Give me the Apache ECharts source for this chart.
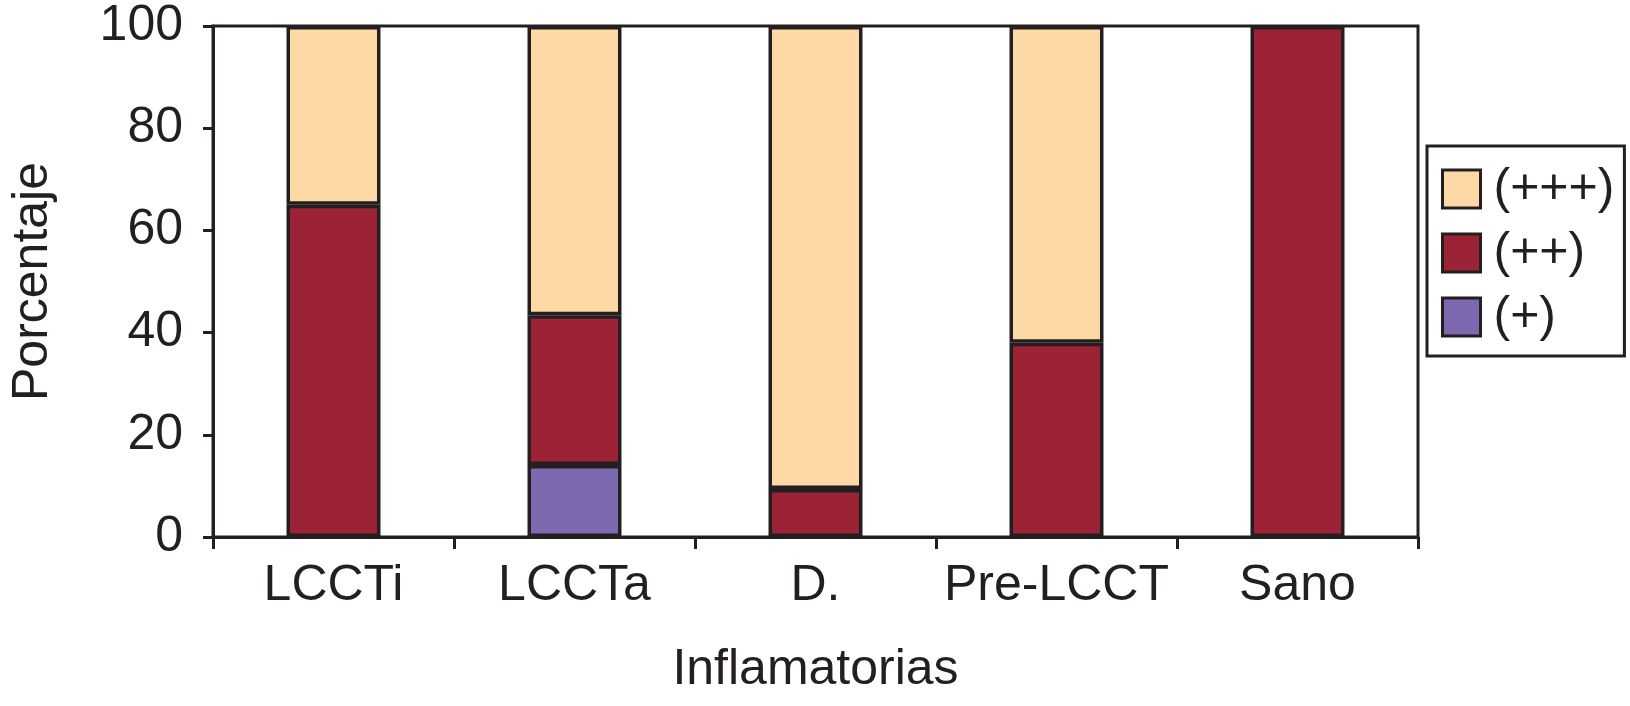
<!DOCTYPE html>
<html>
<head>
<meta charset="utf-8">
<script src="https://cdn.jsdelivr.net/npm/echarts@6/dist/echarts.min.js"></script>
<style>
html,body{margin:0;padding:0;background:#fff;}
#c{width:1630px;height:706px;}
</style>
</head>
<body>
<div id="c"></div>
<script>
const categories = ['LCCTi', 'LCCTa', 'D.', 'Pre-LCCT', 'Sano'];
const seriesNames = ['(+)', '(++)', '(+++)'];
const valsPlus = [0, 14.1, 0, 0, 0];
const valsPlus2 = [65.0, 29.3, 9.4, 38.0, 100];
const valsPlus3 = [35.0, 56.6, 90.6, 62.0, 0];
const yTicks = [0, 20, 40, 60, 80, 100];
const colors = ['#7d69af', '#9c2236', '#fed9a6'];

const ink = '#231f20';
const font = 'Liberation Sans, Arial, Helvetica, sans-serif';
const chart = echarts.init(document.getElementById('c'));
const dataSets = [valsPlus, valsPlus2, valsPlus3];

chart.setOption({
  animation: false,
  backgroundColor: '#fff',
  grid: { left: 212, right: 212, top: 26, bottom: 169, show: true, borderColor: ink, borderWidth: 3, backgroundColor: 'transparent' },
  legend: {
    orient: 'vertical', left: 1427, top: 146,
    data: ['(+++)', '(++)', '(+)'],
    padding: [18, 10, 14, 14],
    borderColor: ink, borderWidth: 3,
    itemWidth: 38, itemHeight: 38, itemGap: 14,
    icon: 'rect',
    itemStyle: { borderColor: ink, borderWidth: 3 },
    textStyle: { fontSize: 50, color: ink, fontFamily: font, padding: [0, 0, 0, 8] }
  },
  xAxis: {
    type: 'category', data: categories,
    name: 'Inflamatorias', nameLocation: 'middle', nameGap: 108,
    nameTextStyle: { fontSize: 50, color: ink, fontFamily: font },
    axisLine: { lineStyle: { color: ink, width: 3 } },
    axisTick: { show: true, interval: 0, length: 12, lineStyle: { color: ink, width: 3 } },
    axisLabel: { interval: 0, fontSize: 50, color: ink, fontFamily: font, margin: 24 }
  },
  yAxis: {
    type: 'value', min: yTicks[0], max: yTicks[yTicks.length - 1], interval: 20,
    name: 'Porcentaje', nameLocation: 'middle', nameGap: 155, nameRotate: 90,
    nameTextStyle: { fontSize: 50, color: ink, fontFamily: font },
    axisLine: { show: true, lineStyle: { color: ink, width: 3 } },
    axisTick: { show: true, length: 10, lineStyle: { color: ink, width: 3 } },
    splitLine: { show: false },
    axisLabel: { fontSize: 50, color: ink, fontFamily: font, margin: 30 }
  },
  series: seriesNames.map((n, i) => ({
    name: n, type: 'bar', stack: 'total', barWidth: '39%',
    data: dataSets[i].map(v => (v === 0 ? null : v)),
    itemStyle: { color: colors[i], borderColor: ink, borderWidth: 3.5 }
  }))
});
</script>
</body>
</html>
